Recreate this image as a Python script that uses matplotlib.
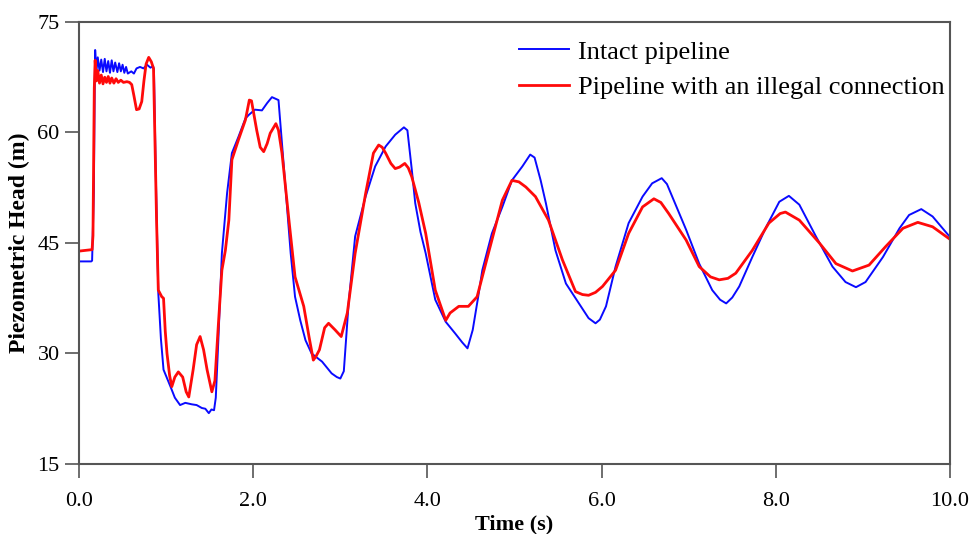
import matplotlib
matplotlib.use("Agg")
import matplotlib.pyplot as plt

plt.rcParams["font.family"] = ["Liberation Serif", "DejaVu Serif"]

# Intact pipeline (blue)
t_intact = [0.0, 0.14, 0.15, 0.17, 0.18, 0.185, 0.20, 0.215, 0.235, 0.255,
            0.275, 0.295, 0.315, 0.335, 0.355, 0.375, 0.395, 0.415, 0.44,
            0.46, 0.48, 0.50, 0.52, 0.54, 0.56, 0.60, 0.63, 0.66, 0.70, 0.74,
            0.78, 0.82, 0.85, 0.86,
            0.88, 0.91, 0.94, 0.97, 1.05, 1.10, 1.16, 1.22, 1.295, 1.35, 1.41,
            1.45, 1.49, 1.52, 1.55, 1.57, 1.60, 1.64, 1.70, 1.755, 1.83, 1.91,
            1.95, 2.02, 2.10, 2.16, 2.215, 2.29, 2.32, 2.37, 2.43, 2.48, 2.54,
            2.60, 2.67, 2.79, 2.90, 2.96, 3.00, 3.04, 3.095, 3.17, 3.29, 3.40,
            3.52, 3.63, 3.73, 3.77, 3.82, 3.86, 3.92, 3.98, 4.09, 4.21, 4.32,
            4.40, 4.46, 4.52, 4.58, 4.63, 4.74, 4.86, 4.97, 5.09, 5.18, 5.23,
            5.30, 5.36, 5.47, 5.59, 5.74, 5.85, 5.93, 5.98, 6.05, 6.16, 6.31,
            6.47, 6.58, 6.69, 6.75, 6.81, 6.97, 7.12, 7.27, 7.36, 7.43, 7.50,
            7.58, 7.73, 7.89, 8.04, 8.15, 8.27, 8.46, 8.65, 8.80, 8.92, 9.03,
            9.23, 9.42, 9.53, 9.67, 9.80, 10.0]
h_intact = [42.5, 42.5, 42.6, 52.0, 66.0, 71.2, 68.3, 70.2, 68.4, 69.9,
            68.2, 70.0, 68.3, 69.7, 68.1, 69.8, 68.3, 69.5, 68.2,
            69.4, 68.3, 69.2, 68.1, 68.9, 68.0, 68.3, 68.0, 68.7, 68.9, 68.7,
            69.2, 68.8, 69.0, 68.5,
            55.0, 38.2, 32.0, 27.8, 25.5, 24.0, 23.0, 23.3, 23.1, 23.0, 22.6,
            22.5, 21.9, 22.4, 22.3, 24.0, 32.0, 43.6, 51.8, 57.2, 59.4, 61.9,
            62.4, 63.1, 63.0, 64.0, 64.8, 64.4, 60.0, 52.6, 43.6, 37.7, 34.5,
            31.8, 30.0, 28.9, 27.3, 26.8, 26.6, 27.6, 36.8, 45.9, 51.3, 55.4,
            58.1, 59.7, 60.7, 60.3, 55.0, 50.4, 46.5, 43.6, 37.3, 34.3, 32.7,
            31.5, 30.7, 33.2, 37.5, 41.3, 46.3, 49.9, 53.5, 55.4, 57.0, 56.6,
            53.5, 50.4, 44.0, 39.5, 36.8, 34.8, 34.1, 34.6, 36.4, 41.8, 47.7,
            51.3, 53.1, 53.8, 53.0, 51.3, 46.8, 42.2, 38.6, 37.3, 36.8, 37.6,
            39.1, 43.1, 47.2, 50.6, 51.4, 50.2, 45.9, 41.8, 39.7, 39.0, 39.7,
            43.1, 47.0, 48.8, 49.6, 48.6, 45.8]

# Pipeline with an illegal connection (red)
t_illegal = [0.0, 0.15, 0.16, 0.175, 0.185, 0.20, 0.215, 0.235, 0.255, 0.275,
             0.295, 0.315, 0.335, 0.355, 0.375, 0.40, 0.425, 0.45, 0.48, 0.51,
             0.55, 0.58, 0.605, 0.63,
             0.66, 0.69, 0.72, 0.745, 0.77, 0.80, 0.83, 0.855, 0.87, 0.89, 0.91,
             0.95, 0.97, 0.99, 1.01, 1.04, 1.065, 1.10, 1.14, 1.19, 1.23, 1.26,
             1.31, 1.35, 1.39, 1.43, 1.47, 1.525, 1.56, 1.60, 1.64, 1.68, 1.72,
             1.755, 1.83, 1.91, 1.955, 1.98, 2.04, 2.08, 2.12, 2.16, 2.195,
             2.26, 2.29, 2.33, 2.41, 2.48, 2.58, 2.64, 2.69, 2.72, 2.76, 2.82,
             2.865, 2.94, 3.01, 3.08, 3.17, 3.29, 3.38, 3.44, 3.48, 3.52, 3.58,
             3.63, 3.68, 3.74, 3.78, 3.82, 3.90, 3.98, 4.09, 4.21, 4.26, 4.36,
             4.47, 4.57, 4.70, 4.86, 4.97, 5.05, 5.13, 5.24, 5.39, 5.55, 5.70,
             5.78, 5.85, 5.93, 6.01, 6.16, 6.31, 6.47, 6.60, 6.68, 6.77, 6.97,
             7.12, 7.25, 7.35, 7.45, 7.54, 7.73, 7.92, 8.05, 8.11, 8.27, 8.50,
             8.69, 8.88, 9.07, 9.26, 9.46, 9.63, 9.80, 10.0]
h_illegal = [43.9, 44.1, 46.0, 66.0, 69.8, 67.0, 68.4, 66.7, 67.8, 66.6,
             67.5, 66.8, 67.6, 66.7, 67.4, 66.7, 67.3, 66.8, 67.1, 66.8,
             66.9, 66.8, 66.5, 65.0,
             63.1, 63.2, 64.2, 67.0, 69.3, 70.2, 69.6, 68.7, 60.0, 48.1, 38.6,
             37.7, 37.5, 33.0, 30.0, 27.0, 25.5, 26.8, 27.5, 26.8, 24.8, 24.1,
             27.8, 31.2, 32.3, 30.5, 27.8, 24.8, 26.3, 34.0, 41.3, 44.0, 48.1,
             56.3, 59.0, 61.7, 64.4, 64.3, 60.3, 58.0, 57.4, 58.5, 59.9,
             61.2, 60.3, 57.2, 48.1, 40.4, 36.4, 32.3, 29.1, 29.6, 30.5, 33.5,
             34.1, 33.2, 32.3, 35.5, 43.6, 51.7, 57.2, 58.3, 58.0, 57.2, 55.8,
             55.1, 55.3, 55.8, 55.2, 54.0, 50.5, 46.3, 38.6, 34.5, 35.5, 36.4,
             36.4, 37.7, 43.6, 50.8, 53.5, 53.3, 52.6, 51.3, 48.1, 42.7, 38.4,
             38.0, 37.9, 38.3, 39.1, 41.3, 46.3, 49.9, 51.0, 50.5, 49.0, 45.4,
             41.8, 40.4, 40.0, 40.2, 40.9, 44.0, 47.7, 49.0, 49.2, 48.1, 45.0,
             42.2, 41.2, 42.0, 44.5, 47.0, 47.8, 47.2, 45.5]

x_ticks = [0, 2, 4, 6, 8, 10]
x_labels = ["0.0", "2.0", "4.0", "6.0", "8.0", "10.0"]
y_ticks = [15, 30, 45, 60, 75]

fig = plt.figure(figsize=(9.71, 5.34), dpi=100)
ax = fig.add_axes([0.0814, 0.1311, 0.8970, 0.8277])

ax.plot(t_intact, h_intact, color="#0a0aff", lw=1.4, label="Intact pipeline")
ax.plot(t_illegal, h_illegal, color="#ff0a0a", lw=2.0,
        label="Pipeline with an illegal connection")

ax.set_xlim(0, 10)
ax.set_ylim(15, 75)
ax.set_xticks(x_ticks)
ax.set_xticklabels(x_labels)
ax.set_yticks(y_ticks)
ax.tick_params(direction="out", length=10, width=1.2, color="#555555",
               labelsize=16)
ax.tick_params(axis="x", pad=10)
ax.tick_params(axis="y", pad=4)

for s in ax.spines.values():
    s.set_color("#555555")
    s.set_linewidth(1.5)

ax.set_xlabel("Time (s)", fontsize=16, fontweight="bold", labelpad=3)
ax.set_ylabel("Piezometric Head (m)", fontsize=17, fontweight="bold", labelpad=5)

ax.legend(loc="upper right", bbox_to_anchor=(1.0, 0.971), frameon=False,
          fontsize=19, handlelength=1.9, handletextpad=0.35, labelspacing=0.45,
          borderaxespad=0, borderpad=0.2)

fig.savefig("out.png", dpi=100)
